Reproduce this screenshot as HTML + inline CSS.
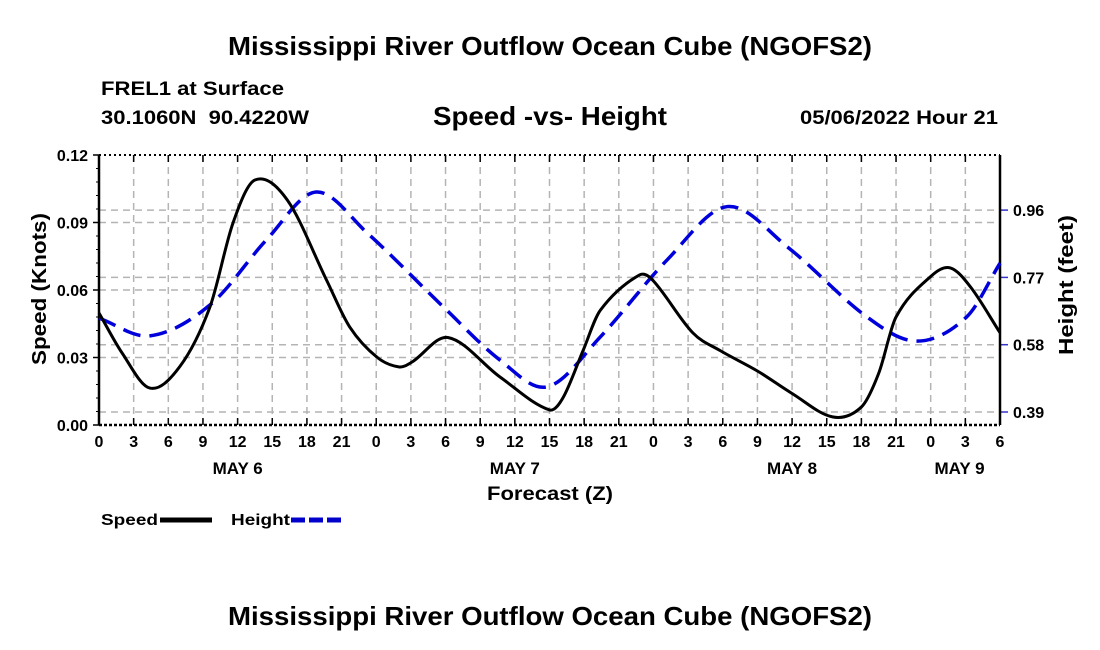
<!DOCTYPE html>
<html><head><meta charset="utf-8"><style>
body{margin:0;background:#fff;}
svg{display:block;font-family:"Liberation Sans",Arial,sans-serif;font-weight:bold;}
</style></head><body>
<svg id="chart" width="1100" height="650" viewBox="0 0 1100 650">
<text x="228" y="55" font-size="26" textLength="644" lengthAdjust="spacingAndGlyphs">Mississippi River Outflow Ocean Cube (NGOFS2)</text>
<text x="101" y="95" font-size="19" textLength="183" lengthAdjust="spacingAndGlyphs">FREL1 at Surface</text>
<text x="101" y="124" font-size="19" textLength="208" lengthAdjust="spacingAndGlyphs" xml:space="preserve">30.1060N  90.4220W</text>
<text x="433" y="125" font-size="26" textLength="234" lengthAdjust="spacingAndGlyphs">Speed -vs- Height</text>
<text x="800" y="124" font-size="19" textLength="198" lengthAdjust="spacingAndGlyphs">05/06/2022 Hour 21</text>
<g id="grid"></g>
<g id="axes"></g>
<g id="series"></g>
<text x="487" y="500" font-size="19" textLength="126" lengthAdjust="spacingAndGlyphs">Forecast (Z)</text>
<text transform="translate(46,365) rotate(-90)" font-size="20" textLength="152" lengthAdjust="spacingAndGlyphs">Speed (Knots)</text>
<text transform="translate(1073,355) rotate(-90)" font-size="20" textLength="140" lengthAdjust="spacingAndGlyphs">Height (feet)</text>
<g>
<text x="101" y="525" font-size="16" textLength="57" lengthAdjust="spacingAndGlyphs">Speed</text>
<line x1="160" y1="520" x2="212" y2="520" stroke="#000" stroke-width="5"/>
<text x="231" y="525" font-size="16" textLength="59" lengthAdjust="spacingAndGlyphs">Height</text>
<line x1="291" y1="520" x2="342" y2="520" stroke="#0000cc" stroke-width="5" stroke-dasharray="14,4"/>
</g>
<text x="228" y="625" font-size="26" textLength="644" lengthAdjust="spacingAndGlyphs">Mississippi River Outflow Ocean Cube (NGOFS2)</text>
</svg>
<script>
const speedHours=[0,2,4.4,7,9.6,11.6,13.5,16.3,19.7,21.7,24.1,26,27.1,30.2,34.7,39,40.2,41.9,43.4,46.8,48,51.4,53.8,57,60,63.5,66,67.5,69,72,73.7,75.5,78];
const speedValues=[.0498,.032,.0164,.026,.0524,.0898,.1089,.100,.0644,.0436,.030,.0258,.028,.0389,.0214,.0067,.0124,.033,.051,.0667,.064,.041,.033,.024,.014,.0036,.008,.023,.048,.066,.0698,.061,.041];
const heightHours=[0,4.4,9.6,14.5,18.8,23.2,29.8,34.7,38.8,43.4,49.2,54.4,59.6,66.5,70.8,75.1,78];
const heightValues=[.655,.605,.692,.876,1.011,.896,.687,.537,.461,.602,.82,.97,.856,.658,.59,.658,.81];
const speedTicks=[0,0.03,0.06,0.09,0.12];
const speedTickLabels=["0.00","0.03","0.06","0.09","0.12"];
const heightTicks=[0.39,0.58,0.77,0.96];
const xTickLabels=["0","3","6","9","12","15","18","21","0","3","6","9","12","15","18","21","0","3","6","9","12","15","18","21","0","3","6"];
const dayLabels=["MAY 6","MAY 7","MAY 8","MAY 9"];
const dayLabelHours=[12,36,60,74.5];

const L=99,R=1000,T=155,B=425,HMAX=78;
const xs=h=>L+(R-L)*h/HMAX;
const ys=v=>B-(B-T)*v/0.12;
const yh=f=>412-(f-0.39)*354.2;
const NS="http://www.w3.org/2000/svg";
function mk(tag,attrs,parent){const e=document.createElementNS(NS,tag);for(const k in attrs)e.setAttribute(k,attrs[k]);parent.appendChild(e);return e;}
const gridG=document.getElementById('grid'),axesG=document.getElementById('axes'),seriesG=document.getElementById('series');
const gs={stroke:"#b4b4b4","stroke-width":1.5,"stroke-dasharray":"7,5"};
xTickLabels.forEach((t,i)=>{
  const x=xs(i*3);
  if(i>0&&i<xTickLabels.length-1){const g=mk('line',Object.assign({x1:x,x2:x,y1:T,y2:B},gs),gridG);
    
    }
  const tk=mk('line',{x1:x,x2:x,y1:B,y2:B-7,stroke:"#000","stroke-width":1.5},axesG);
  
  
  const tk2=mk('line',{x1:x,x2:x,y1:T,y2:T+7,stroke:"#000","stroke-width":1.5},axesG);
  
  
  const tx=mk('text',{x:x,y:B+22,"font-size":16,"text-anchor":"middle"},axesG);tx.textContent=t;
  
  
});
dayLabels.forEach((d,i)=>{const tx=mk('text',{x:xs(dayLabelHours[i]),y:B+49,"font-size":17,"text-anchor":"middle"},axesG);tx.textContent=d;
  
  });
speedTicks.forEach((v,i)=>{
  const y=ys(v);
  if(i>0&&i<speedTicks.length-1){const g=mk('line',Object.assign({x1:L,x2:R,y1:y,y2:y},gs),gridG);
    
    }
  const tk=mk('line',{x1:L-6,x2:L,y1:y,y2:y,stroke:"#000","stroke-width":1.5},axesG);
  
  
  const tx=mk('text',{x:L-11,y:y+6,"font-size":16,"text-anchor":"end"},axesG);tx.textContent=speedTickLabels[i];
  
  
});
for(let k=1;k<20;k++){const y=ys(k*0.006);const m=mk('line',{x1:L-3,x2:L,y1:y,y2:y,stroke:"#000","stroke-width":1},axesG);
  
  }
heightTicks.forEach(f=>{
  const y=yh(f);
  const g=mk('line',Object.assign({x1:L,x2:R,y1:y,y2:y},gs),gridG);
  
  
  const tk=mk('line',{x1:R,x2:R+8,y1:y,y2:y,stroke:"#3333cc","stroke-width":1.5},axesG);
  
  
  const tx=mk('text',{x:R+13,y:y+6,"font-size":16},axesG);tx.textContent=f.toFixed(2);
  
  
});
const frame=[[L,T,L,B],[R,T,R,B]];
frame.forEach(f=>{const l=mk('line',{x1:f[0],y1:f[1],x2:f[2],y2:f[3],stroke:"#000","stroke-width":2.5},axesG);
  
  });
const topLine=mk('line',{x1:L,y1:T,x2:R,y2:T,stroke:"#000","stroke-width":2,"stroke-dasharray":"2,3"},axesG);


const botLine=mk('line',{x1:L,y1:B,x2:R,y2:B,stroke:"#000","stroke-width":2.5,"stroke-dasharray":"3,2"},axesG);


// non-uniform cubic Hermite in data space
function smooth(hs,vs,fx,fy){
  const n=hs.length,m=[];
  for(let i=0;i<n;i++){
    if(i===0)m.push((vs[1]-vs[0])/(hs[1]-hs[0]));
    else if(i===n-1)m.push((vs[n-1]-vs[n-2])/(hs[n-1]-hs[n-2]));
    else m.push((vs[i+1]-vs[i-1])/(hs[i+1]-hs[i-1]));
  }
  let d=`M${fx(hs[0])},${fy(vs[0])}`;
  for(let i=0;i<n-1;i++){const dt=hs[i+1]-hs[i];
    d+=`C${fx(hs[i]+dt/3)},${fy(vs[i]+m[i]*dt/3)} ${fx(hs[i+1]-dt/3)},${fy(vs[i+1]-m[i+1]*dt/3)} ${fx(hs[i+1])},${fy(vs[i+1])}`;}
  return d;}
const hp=mk('path',{d:smooth(heightHours,heightValues,xs,yh),fill:"none",stroke:"#0000dd","stroke-width":3.5,"stroke-dasharray":"18,9"},seriesG);


const sp=mk('path',{d:smooth(speedHours,speedValues,xs,ys),fill:"none",stroke:"#000","stroke-width":3},seriesG);


</script>
</body></html>
